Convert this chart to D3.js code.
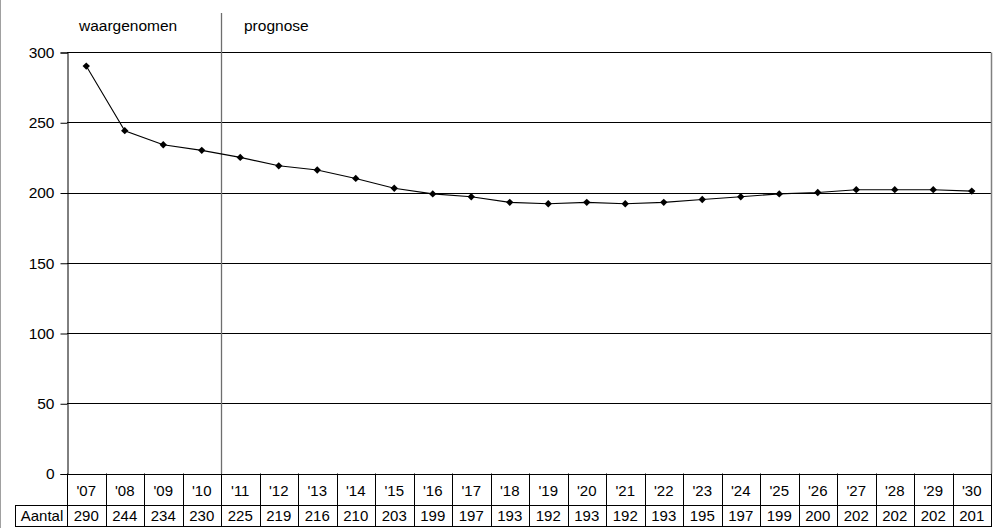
<!DOCTYPE html>
<html>
<head>
<meta charset="utf-8">
<script src="https://cdn.jsdelivr.net/npm/d3@7"></script>
<style>
  html, body { margin: 0; padding: 0; background: #fff; }
  svg { display: block; font-family: "Liberation Sans", Arial, sans-serif; }
</style>
</head>
<body>
<svg id="chart" width="997" height="528"></svg>
<script>
const categories = ["'07","'08","'09","'10","'11","'12","'13","'14","'15","'16","'17","'18","'19","'20","'21","'22","'23","'24","'25","'26","'27","'28","'29","'30"];
const aantal = [290,244,234,230,225,219,216,210,203,199,197,193,192,193,192,193,195,197,199,200,202,202,202,201];
const yTicks = [0,50,100,150,200,250,300];
const rowLabel = "Aantal";
const periodLabels = ["waargenomen","prognose"];
const observedCount = 4;

const svg = d3.select("#chart");
const W = 997, H = 528;
const mLeft = 67, mRight = 991, mTop = 52, mBottom = 473.5;
const row1Bottom = 505, row2Bottom = 526.5, labelCellLeft = 15;

const x = d3.scaleBand().domain(categories).range([mLeft, mRight]).padding(0);
const y = d3.scaleLinear().domain([0, 300]).range([mBottom, mTop]);

// outer left frame
svg.append("line").attr("x1",0.5).attr("x2",0.5).attr("y1",0).attr("y2",H)
  .attr("stroke","#a0a0a0").attr("stroke-width",1);

// horizontal gridlines
svg.append("g").selectAll("line").data(yTicks).join("line")
  .attr("x1", mLeft).attr("x2", mRight)
  .attr("y1", d => Math.round(y(d)) + 0.5).attr("y2", d => Math.round(y(d)) + 0.5)
  .attr("stroke", "#000").attr("stroke-width", 1);

// right border of plot
svg.append("line").attr("x1", mRight + 0.5).attr("x2", mRight + 0.5)
  .attr("y1", Math.round(y(300)) + 0.5).attr("y2", mBottom)
  .attr("stroke", "#808080").attr("stroke-width", 1.5);

// period divider
const divX = x(categories[observedCount]);
svg.append("line").attr("x1", Math.round(divX) + 0.5).attr("x2", Math.round(divX) + 0.5)
  .attr("y1", 13).attr("y2", mBottom)
  .attr("stroke", "#6e6e6e").attr("stroke-width", 1.3);

// y axis
const yAxis = d3.axisLeft(y).tickValues(yTicks).tickSize(7).tickPadding(6);
const gy = svg.append("g").attr("transform", `translate(${mLeft + 0.5},0.5)`).call(yAxis);
gy.select(".domain").attr("stroke", "#000");
gy.selectAll(".tick line").attr("stroke", "#000");
gy.selectAll(".tick text").attr("font-size", 15.5).attr("fill", "#000")
  .attr("font-family", "'Liberation Sans', Arial, sans-serif");

// period labels
svg.append("text").attr("x", 79).attr("y", 31).attr("font-size", 15.5).text(periodLabels[0]);
svg.append("text").attr("x", 244).attr("y", 31).attr("font-size", 15.5).text(periodLabels[1]);

// series line
const line = d3.line().x((d, i) => x(categories[i]) + x.bandwidth() / 2).y(d => y(d));
svg.append("path").datum(aantal).attr("d", line)
  .attr("fill", "none").attr("stroke", "#000").attr("stroke-width", 1.1);

// diamond markers
svg.append("g").selectAll("path").data(aantal).join("path")
  .attr("d", d3.symbol().type(d3.symbolSquare).size(27))
  .attr("transform", (d, i) => `translate(${x(categories[i]) + x.bandwidth() / 2},${y(d)}) rotate(45)`)
  .attr("fill", "#000");

// data table
const tbl = svg.append("g");
tbl.append("line").attr("x1", mLeft).attr("x2", mRight + 1).attr("y1", row1Bottom + 0.5).attr("y2", row1Bottom + 0.5).attr("stroke", "#000");
tbl.append("line").attr("x1", labelCellLeft).attr("x2", mRight + 1).attr("y1", row2Bottom).attr("y2", row2Bottom).attr("stroke", "#000");
tbl.append("line").attr("x1", labelCellLeft).attr("x2", mLeft).attr("y1", row1Bottom + 0.5).attr("y2", row1Bottom + 0.5).attr("stroke", "#000");
tbl.append("line").attr("x1", labelCellLeft + 0.5).attr("x2", labelCellLeft + 0.5).attr("y1", row1Bottom).attr("y2", row2Bottom).attr("stroke", "#000");
tbl.append("line").attr("x1", mLeft + 0.5).attr("x2", mLeft + 0.5).attr("y1", mBottom).attr("y2", row2Bottom).attr("stroke", "#000");
tbl.selectAll("line.col").data(categories).join("line").attr("class", "col")
  .attr("x1", d => Math.round(x(d) + x.bandwidth()) + 0.5)
  .attr("x2", d => Math.round(x(d) + x.bandwidth()) + 0.5)
  .attr("y1", mBottom).attr("y2", row2Bottom)
  .attr("stroke", "#000");
tbl.selectAll("text.cat").data(categories).join("text").attr("class", "cat")
  .attr("x", d => x(d) + x.bandwidth() / 2).attr("y", 496)
  .attr("text-anchor", "middle").attr("font-size", 15).text(d => d);
tbl.selectAll("text.val").data(aantal).join("text").attr("class", "val")
  .attr("x", (d, i) => x(categories[i]) + x.bandwidth() / 2).attr("y", 521)
  .attr("text-anchor", "middle").attr("font-size", 15).text(d => d);
tbl.append("text").attr("x", (labelCellLeft + mLeft) / 2 + 1).attr("y", 521)
  .attr("text-anchor", "middle").attr("font-size", 15).text(rowLabel);
</script>
</body>
</html>
